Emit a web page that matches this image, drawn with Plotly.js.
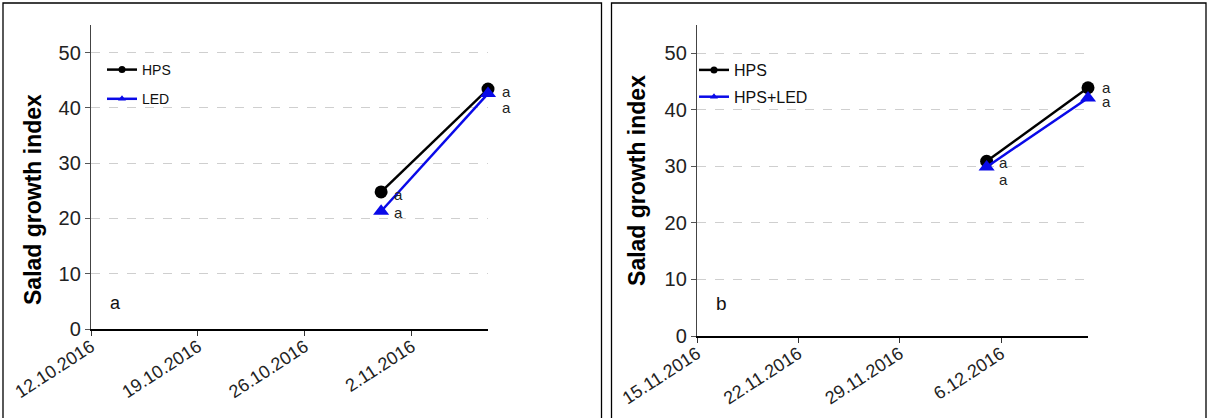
<!DOCTYPE html>
<html>
<head>
<meta charset="utf-8">
<script src="https://cdn.plot.ly/plotly-3.0.1.min.js"></script>
<style>
  html, body { margin: 0; padding: 0; background: #ffffff; }
  #chart { width: 1209px; height: 418px; }
</style>
</head>
<body>
<div id="chart"></div>
<script>
// ---- data ----
const leftDates = ['2016-10-31', '2016-11-07'];
const leftHPS = [24.8, 43.4];
const leftLED = [21.3, 42.6];

const rightDates = ['2016-12-05', '2016-12-12'];
const rightHPS = [30.9, 43.9];
const rightHPSLED = [29.9, 42.1];

const leftTickVals = ['2016-10-12', '2016-10-19', '2016-10-26', '2016-11-02'];
const leftTickText = ['12.10.2016', '19.10.2016', '26.10.2016', '2.11.2016'];
const rightTickVals = ['2016-11-15', '2016-11-22', '2016-11-29', '2016-12-06'];
const rightTickText = ['15.11.2016', '22.11.2016', '29.11.2016', '6.12.2016'];

const leftXRange = ['2016-10-12', '2016-11-07'];
const rightXRange = ['2016-11-15', '2016-12-12'];
const yRange = [0, 55];
const yTicks = [0, 10, 20, 30, 40, 50];

const seriesNames = ['HPS', 'LED', 'HPS', 'HPS+LED'];
const sigLetters = ['a', 'a'];      // letters beside each point
const panelLetters = ['a', 'b'];
const yTitle = 'Salad growth index';

// ---- styling ----
const W = 1209, H = 418;
const px = v => v / W;
const py = v => 1 - v / H;
const BLACK = '#000000';
const BLUE = '#0a0ae8';
const FONT = 'Liberation Sans, Arial, sans-serif';
const TITLE_FONT = { family: FONT, size: 23, color: '#000', weight: 'bold' };

function lineTrace(x, y, name, color, symbol, size, xa, ya) {
  return {
    type: 'scatter', mode: 'lines+markers', x: x, y: y, name: name,
    xaxis: xa, yaxis: ya, showlegend: false, cliponaxis: false,
    line: { color: color, width: 2.5 },
    marker: { color: color, symbol: symbol, size: size }
  };
}
function legendTrace(name, color, symbol, legend) {
  return {
    type: 'scatter', mode: 'lines+markers', x: [null], y: [null], name: name,
    xaxis: legend === 'legend' ? 'x' : 'x2', yaxis: legend === 'legend' ? 'y' : 'y2',
    legend: legend, legendgroup: name + legend, showlegend: true,
    line: { color: color, width: 2.5 },
    marker: { color: color, symbol: symbol, size: 7 }
  };
}

const traces = [
  lineTrace(leftDates, leftHPS, seriesNames[0], BLACK, 'circle', 13, 'x', 'y'),
  lineTrace(leftDates, leftLED, seriesNames[1], BLUE, 'triangle-up', 14, 'x', 'y'),
  lineTrace(rightDates, rightHPS, seriesNames[2], BLACK, 'circle', 13, 'x2', 'y2'),
  lineTrace(rightDates, rightHPSLED, seriesNames[3], BLUE, 'triangle-up', 14, 'x2', 'y2'),
  legendTrace(seriesNames[0], BLACK, 'circle', 'legend'),
  legendTrace(seriesNames[1], BLUE, 'triangle-up', 'legend'),
  legendTrace(seriesNames[2], BLACK, 'circle', 'legend2'),
  legendTrace(seriesNames[3], BLUE, 'triangle-up', 'legend2')
];

function xAxis(domain, range, tv, tt, anchor) {
  return {
    type: 'date', domain: domain, range: range, anchor: anchor,
    tickmode: 'array', tickvals: tv, ticktext: tt, tickangle: -33,
    tickfont: { family: FONT, size: 18, color: '#222' },
    ticks: 'outside', ticklen: 5, tickcolor: '#333', tickwidth: 1,
    ticklabelstandoff: -6,
    showline: true, linecolor: BLACK, linewidth: 1.5,
    showgrid: false, zeroline: false, automargin: false, fixedrange: true
  };
}
function yAxis(domain, anchor, withTitle) {
  const ax = {
    domain: domain, range: yRange, anchor: anchor,
    tickmode: 'array', tickvals: yTicks,
    tickfont: { family: FONT, size: 20, color: '#222' },
    ticks: 'outside', ticklen: 5, tickcolor: '#555', tickwidth: 1,
    showline: true, linecolor: '#444', linewidth: 1.2,
    showgrid: true, gridcolor: '#cfcfcf', griddash: 'dash', gridwidth: 1,
    zeroline: false, automargin: false, fixedrange: true
  };
  if (withTitle) ax.title = { text: yTitle, font: TITLE_FONT, standoff: 12 };
  return ax;
}

// significance letters next to points
const annotations = [];
function letter(x, y, xa, ya, xs, ys) {
  annotations.push({
    x: x, y: y, xref: xa, yref: ya, text: sigLetters[0], showarrow: false,
    xshift: xs, yshift: ys, font: { family: FONT, size: 15, color: '#222' }
  });
}
letter(leftDates[0], leftHPS[0], 'x', 'y', 17, -3);
letter(leftDates[0], leftLED[0], 'x', 'y', 17, -1);
letter(leftDates[1], leftHPS[1], 'x', 'y', 18, -2);
letter(leftDates[1], leftLED[1], 'x', 'y', 18, -14);
letter(rightDates[0], rightHPS[0], 'x2', 'y2', 17, -1);
letter(rightDates[0], rightHPSLED[0], 'x2', 'y2', 17, -13);
letter(rightDates[1], rightHPS[1], 'x2', 'y2', 18, 0);
letter(rightDates[1], rightHPSLED[1], 'x2', 'y2', 18, -4);

annotations.push({ x: px(115), y: py(303), xref: 'paper', yref: 'paper', text: panelLetters[0],
  xanchor: 'center', yanchor: 'middle',
  showarrow: false, font: { family: FONT, size: 18, color: '#111' } });
annotations.push({ x: px(721), y: py(303), xref: 'paper', yref: 'paper', text: panelLetters[1],
  xanchor: 'center', yanchor: 'middle',
  showarrow: false, font: { family: FONT, size: 19, color: '#111' } });
// left panel y-axis title (sits lower than the axis centre in the reference)
annotations.push({ x: px(33), y: py(200), xref: 'paper', yref: 'paper', text: yTitle,
  textangle: -90, xanchor: 'center', yanchor: 'middle', showarrow: false, font: TITLE_FONT });

const shapes = [
  { type: 'rect', xref: 'paper', yref: 'paper', x0: px(3), x1: px(601.5), y0: py(425), y1: py(3),
    line: { color: BLACK, width: 1.3 } },
  { type: 'rect', xref: 'paper', yref: 'paper', x0: px(611.5), x1: px(1206), y0: py(425), y1: py(3),
    line: { color: BLACK, width: 1.3 } }
];

const layout = {
  width: W, height: H,
  margin: { l: 0, r: 0, t: 0, b: 0 },
  paper_bgcolor: '#ffffff', plot_bgcolor: 'rgba(0,0,0,0)',
  font: { family: FONT },
  xaxis: xAxis([px(91), px(488)], leftXRange, leftTickVals, leftTickText, 'y'),
  yaxis: yAxis([py(329), py(25)], 'x', false),
  xaxis2: xAxis([px(697), px(1088)], rightXRange, rightTickVals, rightTickText, 'y2'),
  yaxis2: yAxis([py(336), py(25)], 'x2', true),
  legend: {
    x: px(102), y: py(54), xanchor: 'left', yanchor: 'top', bgcolor: 'rgba(0,0,0,0)',
    font: { family: FONT, size: 14, color: '#111' }, traceorder: 'grouped', tracegroupgap: 8,
    itemwidth: 30
  },
  legend2: {
    x: px(694), y: py(53), xanchor: 'left', yanchor: 'top', bgcolor: 'rgba(0,0,0,0)',
    font: { family: FONT, size: 16, color: '#111' }, traceorder: 'grouped', tracegroupgap: 3,
    itemwidth: 30
  },
  annotations: annotations,
  shapes: shapes,
  showlegend: true
};

Plotly.newPlot('chart', traces, layout, { staticPlot: true, displayModeBar: false });
</script>
</body>
</html>
